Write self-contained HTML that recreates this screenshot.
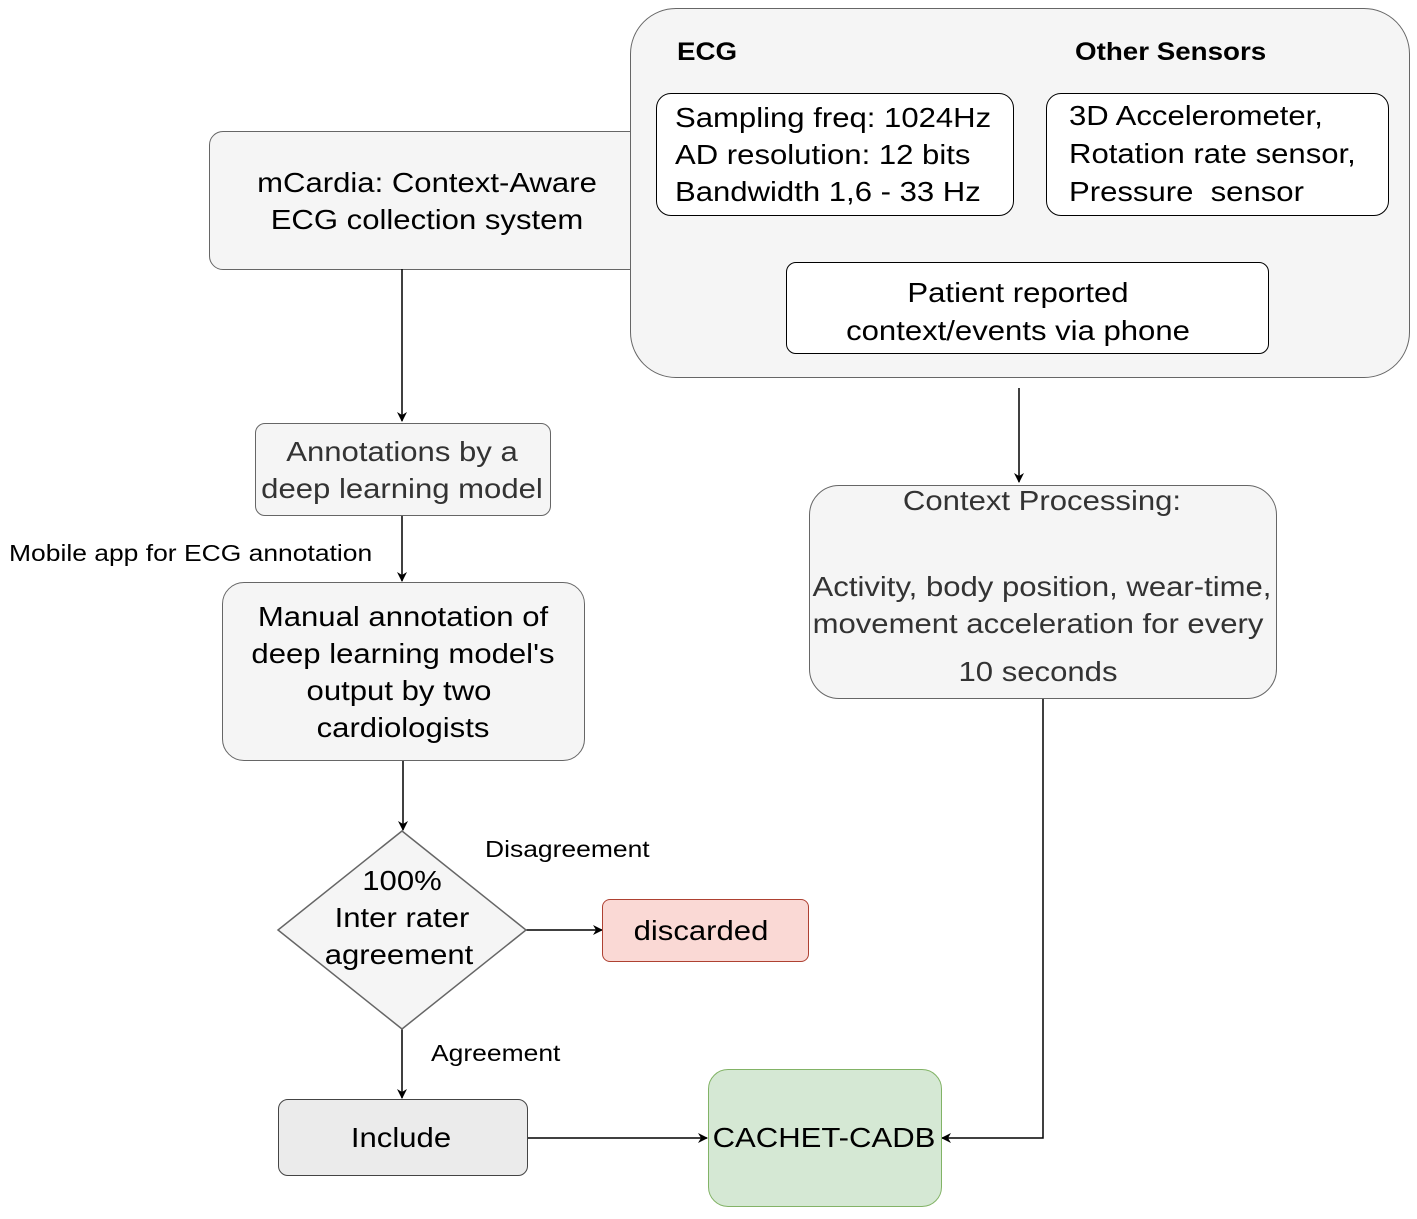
<!DOCTYPE html>
<html><head><meta charset="utf-8"><style>
body{margin:0;width:1417px;height:1219px;background:#fff;position:relative;overflow:hidden;font-family:"Liberation Sans",sans-serif;color:#000}
.b{position:absolute;box-sizing:border-box;border:1.5px solid #666;background:#f5f5f5}
.t{position:absolute;white-space:nowrap;font-size:28px;line-height:1;transform:scaleX(1.11);transform-origin:0 0}
.c{transform:translateX(-50%) scaleX(1.11);transform-origin:50% 0;text-align:center}
.s{font-size:23px;transform:scaleX(1.15)}
svg{position:absolute;left:0;top:0}
</style></head><body>
<div class="b" style="left:209px;top:131px;width:440px;height:139px;border-radius:14px"></div>
<div class="t c" style="left:427px;top:169px">mCardia: Context-Aware</div>
<div class="t c" style="left:427px;top:206px">ECG collection system</div>
<div class="b" style="left:630px;top:8px;width:780px;height:370px;border-radius:46px"></div>
<div class="t" style="left:677px;top:40px;font-size:25px;font-weight:bold">ECG</div>
<div class="t" style="left:1075px;top:40px;font-size:25px;font-weight:bold">Other Sensors</div>
<div class="b" style="left:656px;top:93px;width:358px;height:123px;border-radius:15px;background:#fff;border-color:#000"></div>
<div class="t" style="left:675px;top:104px">Sampling freq: 1024Hz</div>
<div class="t" style="left:675px;top:141px">AD resolution: 12 bits</div>
<div class="t" style="left:675px;top:178px">Bandwidth 1,6 - 33 Hz</div>
<div class="b" style="left:1046px;top:93px;width:343px;height:123px;border-radius:15px;background:#fff;border-color:#000"></div>
<div class="t" style="left:1069px;top:102px">3D Accelerometer,</div>
<div class="t" style="left:1069px;top:140px">Rotation rate sensor,</div>
<div class="t" style="left:1069px;top:178px">Pressure&nbsp; sensor</div>
<div class="b" style="left:786px;top:262px;width:483px;height:92px;border-radius:10px;background:#fff;border-color:#000"></div>
<div class="t c" style="left:1018px;top:279px">Patient reported</div>
<div class="t c" style="left:1018px;top:317px">context/events via phone</div>
<div class="b" style="left:255px;top:423px;width:296px;height:93px;border-radius:10px;color:#333"></div>
<div class="t c" style="left:402px;top:438px;color:#333">Annotations by a</div>
<div class="t c" style="left:402px;top:475px;color:#333">deep learning model</div>
<div class="t s" style="left:9px;top:542px">Mobile app for ECG annotation</div>
<div class="b" style="left:222px;top:582px;width:363px;height:179px;border-radius:22px"></div>
<div class="t c" style="left:403px;top:603px">Manual annotation of</div>
<div class="t c" style="left:403px;top:640px">deep learning model's</div>
<div class="t c" style="left:399px;top:677px">output by two</div>
<div class="t c" style="left:403px;top:714px">cardiologists</div>
<div class="b" style="left:809px;top:485px;width:468px;height:214px;border-radius:30px"></div>
<div class="t c" style="left:1042px;top:487px;color:#333">Context Processing:</div>
<div class="t c" style="left:1042px;top:573px;color:#333">Activity, body position, wear-time,</div>
<div class="t c" style="left:1038px;top:610px;color:#333">movement acceleration for every</div>
<div class="t c" style="left:1038px;top:658px;color:#333">10 seconds</div>
<svg width="1417" height="1219">
<defs><marker id="a" markerWidth="10" markerHeight="10" refX="9" refY="5" orient="auto" markerUnits="userSpaceOnUse"><path d="M0,0 L10,5 L0,10 L3,5z" fill="#000"/></marker></defs>
<g stroke="#000" stroke-width="1.5" fill="none">
<path d="M402 269V421" marker-end="url(#a)"/>
<path d="M402 516V581" marker-end="url(#a)"/>
<path d="M403 761V830" marker-end="url(#a)"/>
<path d="M526 930H602" marker-end="url(#a)"/>
<path d="M402 1029V1098" marker-end="url(#a)"/>
<path d="M527 1138H707" marker-end="url(#a)"/>
<path d="M1019 388V482" marker-end="url(#a)"/>
<path d="M1043 699V1138H942" marker-end="url(#a)"/>
</g>
<polygon points="402,831 526,930 402,1029 278,930" fill="#f5f5f5" stroke="#666" stroke-width="1.5"/>
</svg>
<div class="t c" style="left:402px;top:867px">100%</div>
<div class="t c" style="left:402px;top:904px">Inter rater</div>
<div class="t c" style="left:399px;top:941px">agreement</div>
<div class="t s" style="left:485px;top:838px">Disagreement</div>
<div class="t s" style="left:431px;top:1042px">Agreement</div>
<div class="b" style="left:602px;top:899px;width:207px;height:63px;border-radius:8px;background:#fad9d5;border-color:#ae4132"></div>
<div class="t c" style="left:701px;top:917px">discarded</div>
<div class="b" style="left:278px;top:1099px;width:250px;height:77px;border-radius:10px;background:#ebebeb;border-color:#444"></div>
<div class="t c" style="left:401px;top:1124px">Include</div>
<div class="b" style="left:708px;top:1069px;width:234px;height:138px;border-radius:20px;background:#d5e8d4;border-color:#82b366"></div>
<div class="t c" style="left:824px;top:1124px">CACHET-CADB</div>
</body></html>
